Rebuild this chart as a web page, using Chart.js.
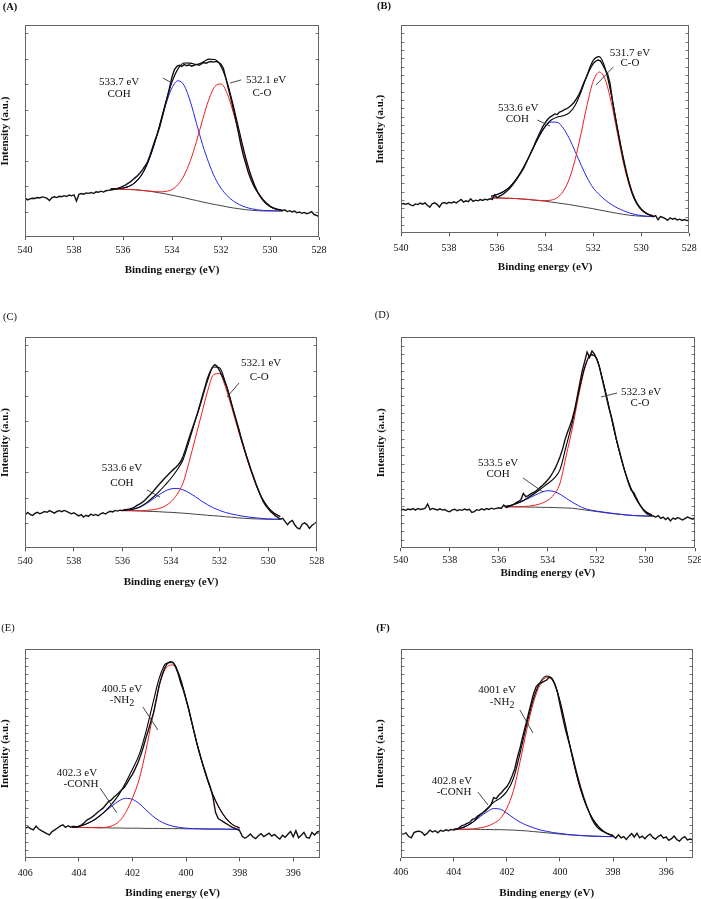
<!DOCTYPE html>
<html><head><meta charset="utf-8">
<script src="https://cdn.jsdelivr.net/npm/chart.js@4.4.1/dist/chart.umd.min.js"></script>
<style>
html,body{margin:0;padding:0;background:#fff;}
body{width:701px;height:899px;position:relative;overflow:hidden;}
canvas{position:absolute;}
</style></head><body>
<canvas id="cA" width="350" height="300" style="left:0px;top:0px"></canvas>
<canvas id="cB" width="351" height="300" style="left:350px;top:0px"></canvas>
<canvas id="cC" width="350" height="300" style="left:0px;top:300px"></canvas>
<canvas id="cD" width="351" height="300" style="left:350px;top:300px"></canvas>
<canvas id="cE" width="350" height="299" style="left:0px;top:600px"></canvas>
<canvas id="cF" width="351" height="299" style="left:350px;top:600px"></canvas>
<script>
// ===== tick labels =====
const xTicksO1s = [540, 538, 536, 534, 532, 530, 528];
const xTicksN1s = [406, 404, 402, 400, 398, 396];

// ===== Panel A (raw: 540 -> 528 every 0.1 eV; fits: 536.5 -> 529.5 every 0.25 eV) =====
const rawA = [18.5,17.5,18.0,18.3,18.2,18.6,18.4,18.9,18.7,18.2,
  17.2,18.6,19.0,18.6,19.2,19.0,19.5,19.1,19.8,19.4,
  19.9,17.0,20.1,20.5,20.2,20.8,20.6,21.0,20.5,21.3,
  21.1,21.6,21.2,21.8,22.0,22.2,22.4,22.7,23.0,23.4,
  24.0,24.5,25.3,26.0,27.0,28.0,29.0,30.3,31.8,33.5,
  35.5,38.5,42.0,45.5,48.5,52.0,56.5,61.0,65.5,70.5,
  75.5,79.0,80.5,81.0,80.5,81.3,80.8,81.2,80.6,81.0,
  81.4,81.0,81.6,82.3,82.0,82.6,82.8,82.5,82.9,82.4,
  81.5,79.5,74.8,70.0,65.5,60.6,55.5,50.0,44.0,39.0,
  35.0,31.0,27.7,25.0,22.8,21.0,19.4,17.8,16.6,15.5,
  14.6,14.0,13.5,13.1,12.9,12.4,12.8,12.0,12.4,11.8,
  12.2,11.4,11.8,11.2,11.6,11.0,11.4,12.0,10.6,10.2,
  9.6];
const bgA   = [22.6,22.6,22.5,22.4,22.3,22.0,21.7,21.3,20.8,20.3,19.7,19.1,18.5,17.8,17.2,16.5,15.9,15.3,14.8,14.2,13.7,13.3,12.9,12.6,12.4,12.3,12.3,12.3,12.3];
const blueA = [22.7,22.8,23.1,23.9,25.8,29.1,34.7,42.7,52.5,62.6,70.4,73.7,71.4,63.8,53.5,43.5,35.0,28.0,23.0,19.5,17.0,15.3,14.1,13.3,12.8,12.5,12.4,12.3,12.3];
const redA  = [22.6,22.6,22.5,22.4,22.3,22.0,21.75,21.5,21.3,21.5,22.4,24.8,29.2,36.0,45.1,55.4,64.8,71.0,72.2,67.7,58.8,47.8,36.7,27.5,20.8,16.6,14.3,13.1,12.6];
const envA  = [22.7,22.8,23.1,23.9,25.8,29.1,34.8,42.9,53.0,63.8,73.1,79.4,82.1,82.0,81.4,82.4,83.9,83.7,80.4,73.0,62.1,49.8,37.9,28.2,21.2,16.8,14.4,13.1,12.6];

// ===== Panel B (raw: 540 -> 528; fits: 536.25 -> 529.5) =====
const rawB = [14.0,14.3,13.9,14.4,13.6,13.2,14.1,13.8,14.5,14.0,
  14.6,13.5,12.5,14.2,14.6,13.9,12.6,14.4,14.8,14.2,
  14.9,14.5,15.1,14.6,15.4,16.3,15.0,15.6,15.2,16.6,
  15.3,15.9,15.6,16.2,15.8,16.4,16.0,16.6,16.3,18.5,
  17.0,17.8,18.4,19.3,20.2,21.3,22.6,24.1,25.7,27.4,
  29.2,31.1,33.5,36.0,38.5,41.0,43.8,46.3,48.9,51.2,
  53.0,54.6,55.8,56.5,57.3,57.0,58.2,58.6,59.4,59.8,
  60.6,61.6,62.8,64.5,66.5,69.0,72.0,74.5,77.2,79.6,
  81.5,82.6,83.2,82.8,80.8,78.5,76.5,72.0,64.0,57.0,
  50.5,44.5,38.8,33.5,28.5,24.0,20.0,16.8,14.6,12.8,
  11.4,10.4,9.7,9.0,8.6,8.0,8.5,6.5,8.0,7.6,
  7.0,6.2,7.4,6.8,7.2,6.4,6.8,6.2,6.6,6.1,
  6.4];
const bgB   = [17.0,17.0,16.9,16.8,16.7,16.5,16.3,16.0,15.7,15.4,15.0,14.6,14.2,13.8,13.3,12.8,12.3,11.8,11.2,10.7,10.1,9.6,9.1,8.7,8.4,8.2,8.1,8.0];
const blueB = [17.8,18.6,19.9,22.0,25.3,29.6,35.0,40.8,46.5,51.0,53.4,53.3,50.5,45.6,39.3,32.7,26.6,21.8,18.6,16.0,13.9,12.2,10.9,9.8,9.0,8.5,8.2,8.0];
const redB  = [17.0,17.0,16.9,16.8,16.7,16.5,16.3,16.0,15.8,15.7,15.95,17.1,20.1,26.0,35.5,48.2,61.9,73.0,77.4,73.8,62.9,48.5,34.2,23.0,15.5,11.3,9.3,8.4];
const envB  = [17.8,18.6,19.9,22.0,25.3,29.6,35.0,40.8,46.6,51.3,54.4,55.8,56.4,57.8,61.5,68.1,76.2,83.0,84.8,79.1,66.7,51.1,36.0,24.1,16.1,11.6,9.4,8.4];

// ===== Panel C (raw: 540 -> 528; fits: 536.0 -> 529.5) =====
const rawC = [15.8,16.9,16.0,15.5,16.5,17.0,16.3,16.9,17.4,17.0,
  17.8,17.2,16.6,17.4,17.8,17.3,17.9,17.5,16.9,16.3,
  16.8,16.0,15.3,15.9,14.8,15.6,15.1,16.2,15.5,16.0,
  15.4,16.3,16.8,16.2,17.0,17.5,17.2,17.9,17.6,18.0,
  17.8,18.2,18.4,18.6,19.0,19.5,20.3,20.9,21.6,22.5,
  23.7,24.8,26.0,27.3,28.7,30.0,31.3,32.6,33.8,35.0,
  36.2,37.3,38.3,39.5,41.0,43.5,46.8,50.5,54.0,57.3,
  60.7,64.2,68.2,72.4,76.3,80.2,83.2,85.5,86.8,86.0,
  84.0,81.6,79.0,76.2,72.4,68.0,64.0,60.0,56.0,51.5,
  47.8,43.8,40.3,36.8,33.7,30.4,27.4,24.6,22.0,20.2,
  18.8,17.4,16.4,15.3,14.6,13.8,14.2,12.6,11.2,12.5,
  13.2,11.0,9.6,9.2,11.4,12.0,11.2,9.4,10.8,11.6,
  12.4];
const bgC   = [17.8,17.8,17.7,17.6,17.5,17.4,17.3,17.1,17.0,16.8,16.6,16.4,16.1,15.9,15.6,15.4,15.2,14.9,14.7,14.4,14.2,14.0,13.9,13.8,13.7,13.7,13.7];
const blueC = [17.9,18.1,18.6,19.6,21.2,23.2,25.2,27.0,28.1,28.3,27.6,26.2,24.4,22.4,20.6,19.1,17.9,16.9,16.2,15.6,15.1,14.7,14.4,14.1,13.9,13.8,13.7];
const redC  = [17.8,17.8,17.8,17.8,17.9,18.2,18.8,19.9,22.0,25.5,31.0,41.0,52.0,63.0,74.0,82.0,82.6,76.0,66.5,56.5,46.9,38.0,29.9,23.5,19.2,16.5,15.0];
const envC  = [17.9,18.1,18.7,19.8,21.6,24.0,26.7,29.8,33.1,37.0,42.0,50.8,60.3,69.5,79.0,85.7,85.3,78.0,68.0,57.7,47.8,38.7,30.4,23.8,19.4,16.6,15.0];

// ===== Panel D (raw: 540 -> 528; fits: 535.75 -> 529.75) =====
const rawD = [17.8,18.5,18.0,18.6,18.3,18.8,18.1,18.9,18.4,18.6,
  19.0,21.0,18.3,18.9,18.5,18.2,18.7,18.1,18.4,17.6,
  17.3,18.2,18.5,17.8,18.3,18.0,18.6,18.2,18.5,17.0,
  17.4,18.3,18.0,18.7,18.2,18.8,18.4,19.0,18.6,18.9,
  19.2,18.9,20.5,19.4,19.8,20.2,20.8,21.5,22.2,23.0,
  26.0,24.5,25.0,25.8,26.4,27.0,28.0,29.0,30.0,31.2,
  32.5,34.0,35.8,38.0,40.5,43.5,47.0,51.5,55.0,58.0,
  61.5,66.0,72.0,78.0,84.0,88.5,93.0,90.5,93.5,92.0,
  89.5,86.0,81.0,76.0,71.0,66.0,62.0,57.0,51.3,47.0,
  42.5,38.0,34.2,30.5,27.5,26.5,24.0,21.8,19.8,18.0,
  16.8,16.0,15.5,15.3,14.8,15.5,14.2,14.8,13.6,14.5,
  13.0,14.3,13.8,14.6,14.0,13.4,14.2,14.8,14.3,13.8,
  14.5];
const bgD   = [19.7,19.7,19.6,19.6,19.5,19.5,19.4,19.4,19.3,19.2,19.1,19.0,18.6,18.2,17.8,17.4,17.0,16.6,16.3,16.0,15.7,15.5,15.4,15.3,15.3];
const blueD = [19.8,20.4,21.3,22.5,23.9,25.3,26.6,27.3,26.9,25.6,23.7,21.8,20.2,18.9,18.1,17.6,17.2,16.8,16.4,16.1,15.8,15.55,15.4,15.3,15.3];
const redD  = [19.7,19.7,19.7,19.8,20.0,20.5,21.3,22.8,25.5,31.0,44.0,57.0,72.0,85.0,91.5,89.5,79.0,66.5,53.5,42.0,32.5,25.5,20.5,17.3,15.8];
const envD  = [19.8,20.4,21.4,22.7,24.4,26.3,28.5,30.7,33.1,37.4,48.6,59.8,73.6,85.7,91.8,89.7,79.2,66.7,53.6,42.1,32.6,25.6,20.5,17.3,15.8];

// ===== Panel E (raw: 406 -> 395 every 0.1 eV; fits: 404.25 -> 398.0) =====
const rawE = [14.4,15.0,14.2,13.6,15.4,14.0,13.2,12.5,11.8,11.2,
  12.8,13.6,14.5,15.4,16.0,14.8,15.6,14.9,15.3,15.0,
  15.2,16.0,17.0,18.3,19.0,19.8,20.8,22.0,23.0,24.0,
  25.5,27.0,27.8,29.2,30.3,31.5,32.8,34.0,36.0,38.2,
  40.2,42.8,45.6,49.0,53.0,57.5,61.5,66.0,70.2,76.5,
  83.0,87.5,91.0,93.2,94.0,93.8,92.0,88.5,84.0,80.5,
  76.0,71.5,66.0,60.5,55.0,50.5,46.0,42.0,38.0,34.3,
  29.5,22.0,19.0,18.2,17.4,16.6,15.8,15.0,14.4,13.8,
  13.2,10.5,9.6,10.4,11.6,10.2,9.4,10.8,11.8,10.4,
  11.2,12.0,10.6,11.4,10.2,9.2,11.0,10.0,11.5,12.8,
  10.3,13.2,9.8,11.0,12.4,10.0,9.6,12.4,11.2,12.6,
  13.0];
const bgE   = [14.8,14.8,14.7,14.7,14.6,14.6,14.5,14.5,14.4,14.4,14.4,14.3,14.3,14.3,14.2,14.2,14.2,14.1,14.1,14.1,14.0,14.0,14.0,13.9,13.9,13.9];
const blueE = [14.8,15.3,16.3,17.8,20.0,22.6,25.2,27.5,28.7,28.2,26.2,23.2,20.3,18.0,16.4,15.4,14.8,14.4,14.2,14.1,14.0,14.0,14.0,13.9,13.9,13.9];
const redE  = [14.8,14.8,14.7,14.7,14.6,14.8,15.6,17.6,22.0,28.8,37.8,51.5,67.5,82.5,91.0,92.5,87.0,76.0,63.0,50.5,39.5,30.5,23.8,19.0,16.0,14.5];
const envE  = [14.8,15.3,16.3,17.8,20.0,22.8,26.3,30.6,36.3,42.6,49.6,60.4,73.5,86.2,93.2,93.7,87.6,76.3,63.1,50.5,39.5,30.5,23.8,19.0,16.0,14.5];

// ===== Panel F (raw: 406 -> 395; fits: 404.0 -> 398.0) =====
const rawF = [12.0,11.6,12.2,10.4,9.8,12.3,12.8,13.0,12.4,11.0,
  12.0,13.5,12.6,13.2,12.2,13.4,12.9,13.6,13.2,13.8,
  13.5,14.0,14.6,15.6,16.0,16.7,17.2,18.6,19.0,20.2,
  21.0,21.8,22.8,24.0,25.5,29.0,28.5,30.3,31.5,33.0,
  34.3,36.5,39.5,43.0,48.5,53.0,58.5,63.5,68.5,73.5,
  78.5,82.0,83.5,84.0,84.6,85.3,86.8,86.0,83.5,79.8,
  73.5,67.5,62.0,57.2,52.6,47.5,42.3,37.5,33.0,29.0,
  25.3,22.0,19.0,16.6,15.0,13.8,13.0,12.4,11.8,11.2,
  10.7,9.6,11.2,9.8,10.4,9.0,10.6,11.8,10.2,12.0,
  9.8,10.6,9.4,10.8,11.6,10.0,9.2,10.4,11.2,9.6,
  10.2,8.6,9.4,10.6,9.0,8.2,9.6,10.4,8.8,9.2,
  8.8];
const bgF   = [13.9,13.9,13.9,13.9,13.8,13.8,13.7,13.7,13.6,13.5,13.3,13.1,12.8,12.5,12.2,11.9,11.6,11.3,11.1,10.9,10.7,10.6,10.5,10.4,10.4];
const blueF = [13.9,14.4,15.6,17.5,20.0,22.2,23.8,23.5,21.6,19.3,17.3,15.8,14.6,13.6,12.9,12.3,11.9,11.5,11.2,10.95,10.75,10.6,10.5,10.4,10.4];
const redF  = [13.9,13.9,13.9,14.1,14.6,15.3,16.7,19.0,24.0,32.5,46.5,61.5,74.5,83.0,86.5,84.5,75.0,61.0,46.5,34.0,24.8,18.5,14.5,12.0,10.9];
const envF  = [13.9,14.4,15.6,17.7,20.8,23.7,26.8,28.8,32.0,38.3,50.5,64.2,76.3,84.1,87.2,84.9,75.3,61.2,46.6,34.05,24.85,18.5,14.5,12.0,10.9];

// ===== helpers =====
function grid(from, n, step){ const a=[]; for(let i=0;i<n;i++) a.push(Math.round((from - i*step)*100)/100); return a; }
function pts(xs, ys){ return ys.map((y,i)=>({x:xs[i], y:y})); }
const FAM = '"Liberation Serif","Times New Roman",serif';

// ===== panel configurations (annotation anchors in data units) =====
const panels = [
 {id:'cA', label:'(A)', bold:true, lpos:[10,7], xmin:528, xmax:540, ticks:xTicksO1s,
  raw:rawA, rawStart:540, fitStart:536.5, bg:bgA, blue:blueA, red:redA, env:envA, yStep:12,
  L:{pl:0, pt:25, pr:31, pb:24.5, yW:25, xH:38.5, tp:4},
  texts:[{x:536.16,y:73.1,t:'533.7 eV'},{x:536.16,y:67.5,t:'COH'},{x:530.16,y:74.1,t:'532.1 eV'},{x:530.33,y:67.9,t:'C-O'}],
  leads:[[534.37,75.0,534.0,72.6],[531.63,72.6,531.18,74.1]]},
 {id:'cB', label:'(B)', bold:true, lpos:[34,6], xmin:528, xmax:540, ticks:xTicksO1s,
  raw:rawB, rawStart:540, fitStart:536.25, bg:bgB, blue:blueB, red:redB, env:envB, yStep:4,
  L:{pl:24.5, pt:25, pr:11.7, pb:27.8, yW:26.5, xH:38.9, tp:6},
  texts:[{x:530.47,y:86.6,t:'531.7 eV'},{x:530.47,y:81.5,t:'C-O'},{x:535.12,y:60.2,t:'533.6 eV'},{x:535.16,y:54.9,t:'COH'}],
  leads:[[531.88,71.2,531.17,79.8],[534.33,54.4,533.79,51.5]]},
 {id:'cC', label:'(C)', bold:false, lpos:[10,17], xmin:528, xmax:540, ticks:xTicksO1s,
  raw:rawC, rawStart:540, fitStart:536.0, bg:bgC, blue:blueC, red:redC, env:envC, yStep:12,
  L:{pl:0, pt:36.7, pr:33.3, pb:12.8, yW:25.3, xH:38.9, tp:4.4},
  texts:[{x:530.29,y:87.6,t:'532.1 eV'},{x:530.37,y:81.0,t:'C-O'},{x:536.02,y:37.9,t:'533.6 eV'},{x:536.02,y:30.9,t:'COH'}],
  leads:[[531.69,71.5,531.2,78.1],[534.99,27.6,534.45,24.2]]},
 {id:'cD', label:'(D)', bold:false, lpos:[32,15], xmin:528, xmax:540, ticks:xTicksO1s,
  raw:rawD, rawStart:540, fitStart:535.75, bg:bgD, blue:blueD, red:redD, env:envD, yStep:4,
  L:{pl:25.5, pt:37.3, pr:6, pb:21.2, yW:25.2, xH:30.5, tp:3.4},
  texts:[{x:530.2,y:74.1,t:'532.3 eV'},{x:530.24,y:68.9,t:'C-O'},{x:536.03,y:40.4,t:'533.5 eV'},{x:536.03,y:35.2,t:'COH'}],
  leads:[[531.83,71.7,531.18,73.6],[535.01,33.3,534.2,26.7]]},
 {id:'cE', label:'(E)', bold:false, lpos:[8,28], xmin:395, xmax:406, ticks:xTicksN1s,
  raw:rawE, rawStart:406, fitStart:404.25, bg:bgE, blue:blueE, red:redE, env:envE, yStep:4,
  L:{pl:0, pt:49.3, pr:30, pb:0.2, yW:25.3, xH:40.5, tp:6},
  texts:[{x:402.39,y:81.0,t:'400.5 eV'},{x:402.39,y:75.7,t:'-NH',sub:'2'},{x:404.07,y:40.8,t:'402.3 eV'},{x:403.92,y:35.6,t:'-CONH'}],
  leads:[[401.61,72.4,401.05,61.4],[403.21,33.6,402.58,21.7]]},
 {id:'cF', label:'(F)', bold:true, lpos:[33,28], xmin:395, xmax:406, ticks:xTicksN1s,
  raw:rawF, rawStart:406, fitStart:404.0, bg:bgF, blue:blueF, red:redF, env:envF, yStep:4,
  L:{pl:24.5, pt:49.3, pr:8.3, pb:0.8, yW:26.2, xH:39.9, tp:5.4},
  texts:[{x:402.37,y:80.5,t:'4001 eV'},{x:402.18,y:74.8,t:'-NH',sub:'2'},{x:404.07,y:37.0,t:'402.8 eV'},{x:403.99,y:31.7,t:'-CONH'}],
  leads:[[401.51,71.0,401.02,60.0],[403.09,31.7,402.71,25.5]]}
];

function decoPlugin(p){
  return {
    id:'deco',
    afterDatasetsDraw(chart){
      const ctx = chart.ctx, xs = chart.scales.x, ys = chart.scales.y;
      ctx.save();
      ctx.strokeStyle = '#333'; ctx.lineWidth = 0.9;
      p.leads.forEach(l=>{
        ctx.beginPath();
        ctx.moveTo(xs.getPixelForValue(l[0]), ys.getPixelForValue(l[1]));
        ctx.lineTo(xs.getPixelForValue(l[2]), ys.getPixelForValue(l[3]));
        ctx.stroke();
      });
      ctx.fillStyle = '#111'; ctx.textBaseline = 'middle'; ctx.textAlign = 'left';
      p.texts.forEach(t=>{
        const px = xs.getPixelForValue(t.x), py = ys.getPixelForValue(t.y);
        ctx.font = '11px ' + FAM;
        const w1 = ctx.measureText(t.t).width;
        let w2 = 0;
        if (t.sub){ ctx.font = '10px ' + FAM; w2 = ctx.measureText(t.sub).width; }
        const x0 = px - (w1 + w2)/2;
        ctx.font = '11px ' + FAM; ctx.fillText(t.t, x0, py);
        if (t.sub){ ctx.font = '10px ' + FAM; ctx.fillText(t.sub, x0 + w1, py + 3); }
      });
      ctx.restore();
    },
    afterDraw(chart){
      const ctx = chart.ctx, a = chart.chartArea, ys = chart.scales.y;
      const l = Math.round(a.left)+0.5, r = Math.round(a.right)-0.5, t = Math.round(a.top)+0.5, b = Math.round(a.bottom)-0.5;
      ctx.save();
      ctx.strokeStyle = '#666'; ctx.lineWidth = 1;
      ctx.strokeRect(l, t, r-l, b-t);
      ctx.strokeStyle = '#777';
      ctx.beginPath();
      for (let v = p.yStep; v < 100; v += p.yStep){
        const y = Math.round(ys.getPixelForValue(v)) + 0.5;
        ctx.moveTo(l, y); ctx.lineTo(l+3, y);
        ctx.moveTo(r, y); ctx.lineTo(r-3, y);
      }
      ctx.stroke();
      ctx.fillStyle = '#111'; ctx.textAlign = 'center'; ctx.textBaseline = 'middle';
      ctx.font = (p.bold ? 'bold ' : '') + '10.5px ' + FAM;
      ctx.fillText(p.label, p.lpos[0], p.lpos[1]);
      ctx.restore();
    }
  };
}

function makeChart(p){
  const rawX = grid(p.rawStart, p.raw.length, 0.1);
  const fitX = grid(p.fitStart, p.bg.length, 0.25);
  const L = p.L;
  new Chart(document.getElementById(p.id), {
    type:'line',
    data:{datasets:[
      {data:pts(rawX,p.raw), borderColor:'#111', borderWidth:1.4, tension:0},
      {data:pts(fitX,p.env), borderColor:'#000', borderWidth:1.1, cubicInterpolationMode:'monotone'},
      {data:pts(fitX,p.red), borderColor:'#ee1c1c', borderWidth:1, cubicInterpolationMode:'monotone'},
      {data:pts(fitX,p.blue), borderColor:'#2323ee', borderWidth:1, cubicInterpolationMode:'monotone'},
      {data:pts(fitX,p.bg), borderColor:'#444', borderWidth:1, cubicInterpolationMode:'monotone'}
    ]},
    options:{
      responsive:false, animation:false, devicePixelRatio:1, events:[],
      layout:{padding:{left:L.pl, top:L.pt, right:L.pr, bottom:L.pb}},
      elements:{point:{radius:0}, line:{fill:false}},
      plugins:{legend:{display:false}, tooltip:{enabled:false}},
      scales:{
        x:{type:'linear', min:p.xmin, max:p.xmax, reverse:true,
          afterBuildTicks:(s)=>{ s.ticks = p.ticks.map(v=>({value:v})); },
          afterFit:(s)=>{ s.height = L.xH; s.paddingLeft = 0; s.paddingRight = 0; },
          ticks:{autoSkip:false, maxRotation:0, color:'#111', font:{family:FAM, size:10}, padding:L.tp},
          grid:{display:true, drawOnChartArea:false, drawTicks:true, tickLength:3, color:'#555'},
          border:{display:false},
          title:{display:true, text:'Binding energy (eV)', color:'#111', font:{family:FAM, size:11, weight:'bold', lineHeight:1}, padding:0}
        },
        y:{type:'linear', min:0, max:100,
          afterFit:(s)=>{ s.width = L.yW; s.paddingTop = 0; s.paddingBottom = 0; },
          ticks:{display:false}, grid:{display:false}, border:{display:false},
          title:{display:true, text:'Intensity (a.u.)', color:'#111', font:{family:FAM, size:11, weight:'bold', lineHeight:1}, padding:0}
        }
      }
    },
    plugins:[decoPlugin(p)]
  });
}
panels.forEach(makeChart);
</script>
</body></html>
